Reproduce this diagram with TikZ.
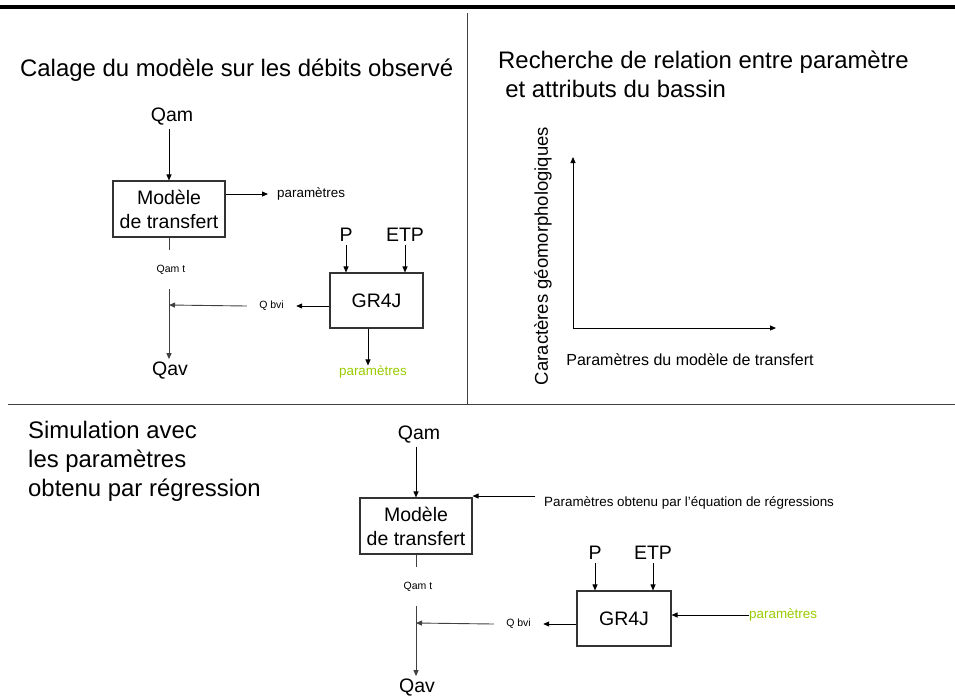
\documentclass[tikz,border=0pt]{standalone}
\usepackage{fontspec}
\setmainfont{Liberation Sans}
\usetikzlibrary{arrows.meta, positioning}
\definecolor{paramgreen}{RGB}{153,204,0}

\begin{document}
\begin{tikzpicture}[x=1pt, y=-1pt,
  title/.style={font=\fontsize{23.9}{29}\selectfont, align=left, inner sep=0pt},
  lbl/.style={font=\fontsize{19.5}{24}\selectfont, inner sep=3pt},
  small/.style={font=\fontsize{13.4}{16}\selectfont, inner sep=0pt},
  tiny/.style={font=\fontsize{10.5}{12}\selectfont, inner sep=0pt},
  block/.style={rectangle, draw=black!80, line width=1.1pt, align=center, font=\fontsize{19.5}{24}\selectfont, inner sep=0pt},
  arrow/.style={line width=0.9pt, ->, >={Triangle[length=6pt,width=5pt]}},
  wire/.style={line width=0.9pt, draw=black!75}]

\useasboundingbox (0,0) rectangle (955,697);

% frame
\draw[line width=4pt] (0,7) -- (955,7);
\draw[wire] (467,13) -- (467,404);
\draw[wire] (8,404) -- (955,404);

% top left: calage
\node[title, anchor=west] (t1) at (20,70) {Calage du modèle sur les débits observé};
\node[lbl] (qam) at (172,117) {Qam};
\node[block, minimum width=112pt, minimum height=56pt] (model) at (169,209) {Modèle\\de transfert};
\node[small, anchor=west, inner xsep=9pt] (par1) at (268,194) {paramètres};
\node[tiny, minimum height=39pt] (qamt) at (171,269.5) {Qam t};
\node[lbl] (qav) at (170,371) {Qav};
\coordinate (jA) at (169,305);
\node[tiny, minimum width=49pt] (qbvi) at (271.5,306) {Q bvi};
\node[block, minimum width=93pt, minimum height=55pt] (gr) at (376.5,300.5) {GR4J};
\node[lbl] (p) at (346,235) {P};
\node[lbl] (etp) at (405,235) {ETP};
\node[small, text=paramgreen] (par2) at (373,372) {paramètres};

\draw[arrow] (qam.south -| model.north) -- (model.north);
\draw[arrow] (model.east |- par1.west) -- (par1.west);
\draw[wire] (model.south) -- (model.south |- qamt.north);
\draw[arrow, wire] (model.south |- qamt.south) -- (model.south |- qav.north);
\draw[arrow] (gr.west |- qbvi) -- (qbvi.east);
\draw[arrow, wire] (qbvi.west) -- (jA);
\draw[arrow] (p) -- (p |- gr.north);
\draw[arrow] (etp) -- (etp |- gr.north);
\draw[arrow] ([xshift=-5pt]par2.north |- gr.south) -- ([xshift=-5pt]par2.north);

% top right: relation
\node[title, anchor=north west] (t2) at (498,51) {Recherche de relation entre paramètre\\\hspace*{0.3em}et attributs du bassin};
\coordinate (origin) at (573,328);
\coordinate (ytop) at (573,157);
\coordinate (xend) at (776,328);
\draw[arrow] (origin) -- (ytop);
\draw[arrow] (origin) -- (xend);
\node[font=\fontsize{18.5}{22}\selectfont, rotate=90] (ylab) at (543,256) {Caractères géomorphologiques};
\node[font=\fontsize{16}{19}\selectfont] (xlab) at (690,360) {Paramètres du modèle de transfert};

% bottom: simulation
\node[title, anchor=north west] (t3) at (28,421) {Simulation avec\\les paramètres\\obtenu par régression};
\node[lbl] (qam2) at (419,435) {Qam};
\node[block, minimum width=112pt, minimum height=56pt] (model2) at (416,526) {Modèle\\de transfert};
\node[small, anchor=west, inner xsep=9pt] (reg) at (535,503) {Paramètres obtenu par l'équation de régressions};
\node[tiny, minimum height=39pt] (qamt2) at (418,586.5) {Qam t};
\node[lbl] (qav2) at (417,688) {Qav};
\coordinate (jB) at (416,623);
\node[tiny, minimum width=49pt] (qbvi2) at (518.5,624) {Q bvi};
\node[block, minimum width=94pt, minimum height=55pt] (gr2) at (624,618.5) {GR4J};
\node[lbl] (p2) at (595,553) {P};
\node[lbl] (etp2) at (653,553) {ETP};
\node[small, anchor=west, text=paramgreen] (par3) at (749,615) {paramètres};

\draw[arrow] (qam2.south -| model2.north) -- (model2.north);
\draw[arrow] ([yshift=7pt]reg.west) -- ([yshift=7pt]reg.west -| model2.east);
\draw[wire] (model2.south) -- (model2.south |- qamt2.north);
\draw[arrow, wire] (model2.south |- qamt2.south) -- (model2.south |- qav2.north);
\draw[arrow] (gr2.west |- qbvi2) -- (qbvi2.east);
\draw[arrow, wire] (qbvi2.west) -- (jB);
\draw[arrow] (p2) -- (p2 |- gr2.north);
\draw[arrow] (etp2) -- (etp2 |- gr2.north);
\draw[arrow] (par3.west) -- (par3.west -| gr2.east);

\end{tikzpicture}
\end{document}
